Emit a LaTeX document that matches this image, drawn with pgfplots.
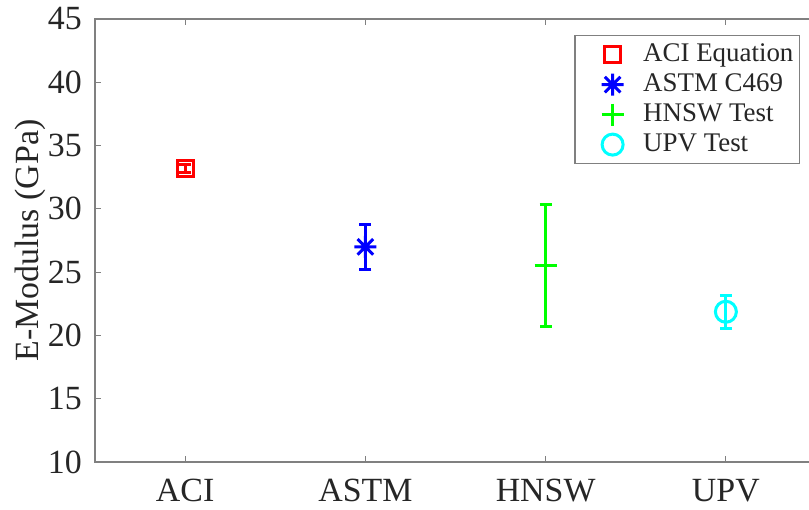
\documentclass[border=0pt]{standalone}
\usepackage{fontspec}
\setmainfont{Liberation Serif}
\usepackage{pgfplots}
\pgfplotsset{compat=1.18}
\definecolor{axgray}{gray}{0.5}
\definecolor{txt}{gray}{0.15}
\definecolor{mred}{rgb}{1,0,0}
\definecolor{mblue}{rgb}{0,0,1}
\definecolor{mgreen}{rgb}{0,1,0}
\definecolor{mcyan}{rgb}{0,1,1}
\pgfdeclareplotmark{mstar}{%
  \pgfpathmoveto{\pgfqpoint{-\pgfplotmarksize}{0pt}}\pgfpathlineto{\pgfqpoint{\pgfplotmarksize}{0pt}}%
  \pgfpathmoveto{\pgfqpoint{0pt}{-\pgfplotmarksize}}\pgfpathlineto{\pgfqpoint{0pt}{\pgfplotmarksize}}%
  \pgfpathmoveto{\pgfqpoint{-0.707\pgfplotmarksize}{-0.707\pgfplotmarksize}}\pgfpathlineto{\pgfqpoint{0.707\pgfplotmarksize}{0.707\pgfplotmarksize}}%
  \pgfpathmoveto{\pgfqpoint{-0.707\pgfplotmarksize}{0.707\pgfplotmarksize}}\pgfpathlineto{\pgfqpoint{0.707\pgfplotmarksize}{-0.707\pgfplotmarksize}}%
  \pgfusepathqstroke}
\begin{document}
\begin{tikzpicture}
\useasboundingbox (0,0) rectangle (809bp,510bp);
\begin{axis}[
  at={(95bp,48bp)}, anchor=south west,
  scale only axis, width=721bp, height=443bp,
  xmin=0.5, xmax=4.5, ymin=10, ymax=45,
  xtick={1,2,3,4}, xticklabels={ACI,ASTM,HNSW,UPV},
  ytick={10,15,20,25,30,35,40,45},
  axis line style={draw=axgray, line width=1.2bp},
  every tick/.style={draw=axgray, line width=0.8bp},
  major tick length=6bp,
  tick label style={font=\fontsize{34}{40}\selectfont, text=txt},
  /pgf/number format/assume math mode=true,
  yticklabel style={inner sep=0pt, xshift=-13bp},
  xticklabel style={inner sep=0pt, yshift=-17bp},
  ylabel={E-Modulus (GPa)},
  ylabel style={font=\fontsize{34}{40}\selectfont, text=txt, at={(axis description cs:-0.0902,0.5)}, anchor=center},
  legend style={at={(rel axis cs:1,1)}, xshift=-16bp, yshift=-16bp, anchor=north east,
    draw=axgray, line width=1.2bp, font=\fontsize{27}{30}\selectfont, text=txt,
    inner xsep=4bp, inner ysep=4bp, row sep=0bp,
    nodes={text height=19bp, text depth=6bp, inner ysep=2.5bp, inner xsep=2bp}},
  legend cell align=left,
  legend image code/.code={\path (-33bp,0bp) (28bp,0bp);\draw[mark repeat=2,mark phase=2,#1] plot coordinates {(-1bp,0bp)(0bp,0bp)(1bp,0bp)};},
]
\addplot[only marks, color=mred, mark=square, mark size=8bp, mark options={line width=3bp},
  error bars/.cd, y dir=both, y explicit, error bar style={line width=3bp}, error mark options={rotate=90, mark size=6bp, line width=3bp}]
  coordinates {(1,33.2) +- (0,0.3)};
\addlegendentry{ACI Equation}
\addplot[only marks, color=mblue, mark=mstar, mark size=11bp, mark options={line width=3bp},
  error bars/.cd, y dir=both, y explicit, error bar style={line width=3bp}, error mark options={rotate=90, mark size=6bp, line width=3bp}]
  coordinates {(2,27.0) +- (0,1.78)};
\addlegendentry{ASTM C469}
\addplot[only marks, color=mgreen, mark=+, mark size=11bp, mark options={line width=3bp},
  error bars/.cd, y dir=both, y explicit, error bar style={line width=3bp}, error mark options={rotate=90, mark size=6bp, line width=3bp}]
  coordinates {(3,25.56) +- (0,4.82)};
\addlegendentry{HNSW Test}
\addplot[only marks, color=mcyan, mark=o, mark size=10.5bp, mark options={line width=3bp},
  error bars/.cd, y dir=both, y explicit, error bar style={line width=3bp}, error mark options={rotate=90, mark size=6bp, line width=3bp}]
  coordinates {(4,21.87) +- (0,1.32)};
\addlegendentry{UPV Test}
\end{axis}
\end{tikzpicture}
\end{document}
